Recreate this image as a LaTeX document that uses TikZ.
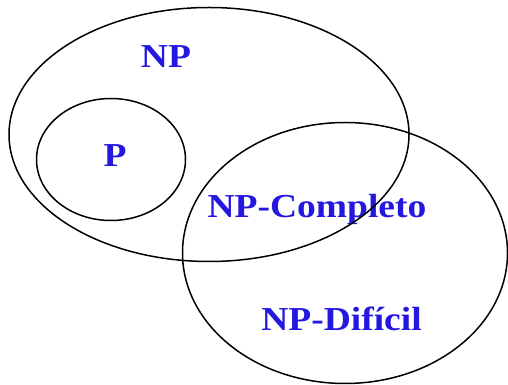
\documentclass[tikz,border=0pt]{standalone}
\usepackage{fontspec}
\setmainfont{Liberation Serif}
\newfontfamily\setfont[FakeStretch=1.12]{Liberation Serif}
\definecolor{setblue}{RGB}{36,24,224}
\def\lw{1.5pt}

\begin{document}
\begin{tikzpicture}[x=1pt, y=1pt,
    setname/.style={text=setblue, font=\setfont\bfseries\fontsize{33.5}{33.5}\selectfont, inner sep=0pt, anchor=base}]
    \useasboundingbox (0,0) rectangle (508,385);
    \coordinate (cNP) at (209,250.5);
    \coordinate (cP) at (111,225.5);
    \coordinate (cNPD) at (345,132);

    \node [setname] (NP) at (166,317) {NP};
    \node [setname] (P) at (115,218) {P};
    \node [setname] (NPC) at (317,167) {NP-Completo};
    \node [setname] (NPD) at (341.5,54) {NP-Difícil};

    \draw [line width=\lw] (cNP) ellipse [x radius=200, y radius=127];
    \draw [line width=\lw] (cP) ellipse [x radius=74.5, y radius=61];
    \draw [line width=\lw] (cNPD) ellipse [x radius=162.5, y radius=130.5];
\end{tikzpicture}
\end{document}
